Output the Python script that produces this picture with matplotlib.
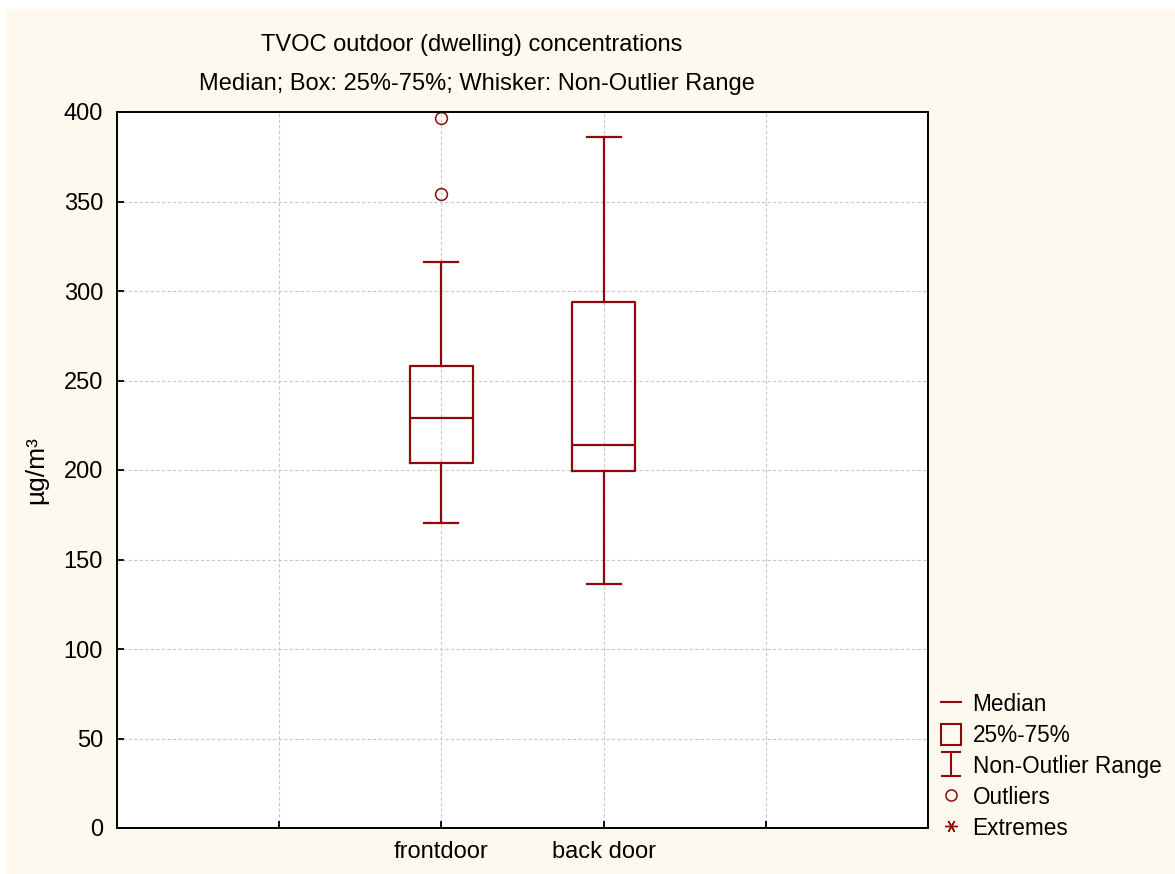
import matplotlib.pyplot as plt
import numpy as np
from matplotlib.lines import Line2D
from matplotlib.patches import Patch, Rectangle
from matplotlib.path import Path

plt.rcParams['font.family'] = ['Liberation Sans', 'DejaVu Sans']

# values
groups = ['frontdoor', 'back door']
medians = [229.2, 214.0]
q1 = [203.9, 199.6]
q3 = [258.0, 293.8]
whis_lo = [170.6, 136.3]
whis_hi = [316.4, 386.2]
outliers = [[396.5, 354.0], []]

red = '#8C0A0A'
bg = '#FDF9EF'
fs = 17

fig = plt.figure(figsize=(11.75, 8.74), dpi=100)
fig.patch.set_facecolor('white')
fig.patches.append(Rectangle((6 / 1175, 0), 1, 1 - 9 / 874, transform=fig.transFigure,
                             facecolor=bg, edgecolor='none', zorder=-10))

ax = fig.add_axes([117 / 1175, 46 / 874, 811 / 1175, 716 / 874])
ax.set_facecolor('white')

stats = []
for i in range(len(groups)):
    stats.append(dict(med=medians[i], q1=q1[i], q3=q3[i], whislo=whis_lo[i],
                      whishi=whis_hi[i], fliers=outliers[i], label=groups[i]))

pos = [2, 3]
ax.bxp(stats, positions=pos, widths=0.39, capwidths=0.21, manage_ticks=False,
       boxprops=dict(color=red, lw=1.6),
       medianprops=dict(color=red, lw=1.6),
       whiskerprops=dict(color=red, lw=1.6),
       capprops=dict(color=red, lw=1.6),
       flierprops=dict(marker='o', markerfacecolor='none', markeredgecolor=red,
                       markersize=8.5, markeredgewidth=1.1))

ax.set_xlim(0, 5)
ax.set_ylim(0, 400)
ax.set_xticks([1, 2, 3, 4])
ax.set_xticklabels(['', groups[0], groups[1], ''])
ax.set_yticks(np.arange(0, 401, 50))
ax.grid(True, color='#C8C8C8', linestyle=(0, (3, 2)), lw=0.8)
ax.set_axisbelow(True)
ax.tick_params(direction='in', length=5, width=1.3, labelsize=fs, color='black')
ax.tick_params(axis='y', pad=10)
ax.tick_params(axis='x', pad=9)
for s in ax.spines.values():
    s.set_linewidth(1.4)
    s.set_color('black')

ax.set_ylabel('µg/m³', fontsize=19, labelpad=11)

fig.text(472 / 1175, 1 - 45 / 874, 'TVOC outdoor (dwelling) concentrations',
         ha='center', va='center', fontsize=fs)
fig.text(477 / 1175, 1 - 84 / 874, 'Median; Box: 25%-75%; Whisker: Non-Outlier Range',
         ha='center', va='center', fontsize=fs)

# legend
whisk = Path([(-0.85, -1), (0.85, -1), (0, -1), (0, 1), (-0.85, 1), (0.85, 1)],
             [Path.MOVETO, Path.LINETO, Path.MOVETO, Path.LINETO, Path.MOVETO, Path.LINETO])
handles = [
    Line2D([], [], color=red, lw=1.5),
    Patch(facecolor='none', edgecolor=red, lw=1.5),
    Line2D([], [], ls='none', marker=whisk, markersize=17, markeredgecolor=red,
           markerfacecolor='none', markeredgewidth=1.5),
    Line2D([], [], ls='none', marker='o', markersize=8, markerfacecolor='none',
           markeredgecolor=red, markeredgewidth=1.1),
    Line2D([], [], ls='none', marker=(6, 2, 90), markersize=9, markeredgecolor=red,
           markeredgewidth=1.0),
]
labels = ['Median', '25%-75%', 'Non-Outlier Range', 'Outliers', 'Extremes']
fig.legend(handles, labels, loc='lower left', bbox_to_anchor=(925 / 1175, 18 / 874),
           frameon=False, fontsize=16.3, handlelength=0.9, handleheight=1.05,
           handletextpad=0.5, labelspacing=0.34, borderpad=0.2)

plt.savefig('out.png', dpi=100, facecolor=fig.get_facecolor())
